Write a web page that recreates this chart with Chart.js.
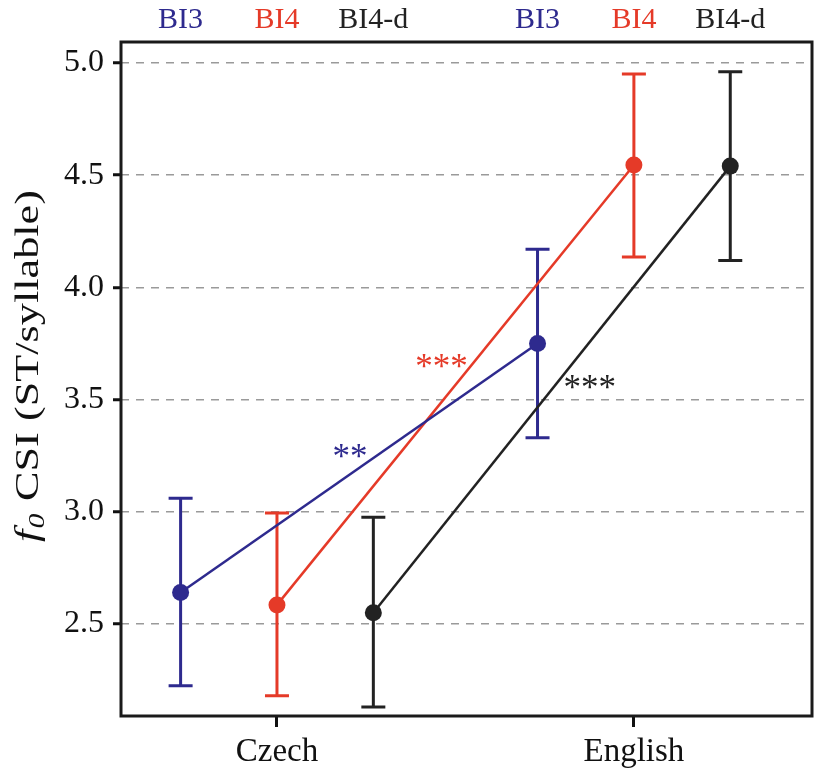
<!DOCTYPE html>
<html lang="en">
  <head>
    <meta charset="UTF-8" />
    <title>f0 CSI by language</title>
    <script src="https://cdn.jsdelivr.net/npm/chart.js@4"></script>
    <style>
      html, body { margin: 0; padding: 0; background: #fff; }
      #wrap { width: 827px; height: 779px; }
    </style>
  </head>
  <body>
    <div id="wrap"><canvas id="csiChart"></canvas></div>
    <script>
      // values
      const languages = ["Czech", "English"];
      const groups = ["BI3", "BI4", "BI4-d"];
      const groupOffsets = [-0.27, 0, 0.27];
      const meanBI3 = [2.64, 3.75];
      const meanBI4 = [2.585, 4.545];
      const meanBI4d = [2.55, 4.54];
      const lowBI3 = [2.225, 3.33];
      const lowBI4 = [2.18, 4.135];
      const lowBI4d = [2.13, 4.12];
      const highBI3 = [3.06, 4.17];
      const highBI4 = [2.995, 4.95];
      const highBI4d = [2.975, 4.96];
      const sigLabels = ["**", "***", "***"];
      const yTicks = [2.5, 3.0, 3.5, 4.0, 4.5, 5.0];

      const colors = ["#2e2a8e", "#e53a28", "#222222"];
      const FONT = "'Liberation Serif', 'DejaVu Serif', serif";

      const means = [meanBI3, meanBI4, meanBI4d];
      const lows = [lowBI3, lowBI4, lowBI4d];
      const highs = [highBI3, highBI4, highBI4d];

      const datasets = groups.map((g, gi) => ({
        label: g,
        data: languages.map((_, li) => ({
          x: li + groupOffsets[gi],
          y: means[gi][li],
          lo: lows[gi][li],
          hi: highs[gi][li],
        })),
        borderColor: colors[gi],
        backgroundColor: colors[gi],
        borderWidth: 2.5,
        pointRadius: 8.5,
        pointBorderWidth: 0,
        showLine: true,
      }));

      // error bars, frame, group labels, significance marks, axis title
      const decor = {
        id: "decor",
        beforeDatasetsDraw(chart) {
          const ctx = chart.ctx;
          const xs = chart.scales.x, ys = chart.scales.y;
          ctx.save();
          chart.data.datasets.forEach((ds) => {
            ctx.strokeStyle = ds.borderColor;
            ctx.lineWidth = 3;
            ds.data.forEach((p) => {
              const px = xs.getPixelForValue(p.x);
              const top = ys.getPixelForValue(p.hi);
              const bot = ys.getPixelForValue(p.lo);
              ctx.beginPath();
              ctx.moveTo(px, top);
              ctx.lineTo(px, bot);
              ctx.moveTo(px - 12, top);
              ctx.lineTo(px + 12, top);
              ctx.moveTo(px - 12, bot);
              ctx.lineTo(px + 12, bot);
              ctx.stroke();
            });
          });
          ctx.restore();
        },
        afterDraw(chart) {
          const ctx = chart.ctx;
          const a = chart.chartArea;
          const xs = chart.scales.x;
          ctx.save();
          // frame
          ctx.strokeStyle = "#1a1a1a";
          ctx.lineWidth = 3;
          ctx.strokeRect(a.left, a.top, a.right - a.left, a.bottom - a.top);

          // group labels above the frame
          ctx.font = "30px " + FONT;
          ctx.textAlign = "center";
          ctx.textBaseline = "alphabetic";
          languages.forEach((_, li) => {
            groups.forEach((g, gi) => {
              ctx.fillStyle = colors[gi];
              ctx.fillText(g, xs.getPixelForValue(li + groupOffsets[gi]), 28);
            });
          });

          // significance marks near each line's midpoint
          const nudges = [[-9, -9], [-14, -16], [38, 0]];
          ctx.font = "35px " + FONT;
          chart.data.datasets.forEach((ds, gi) => {
            const m0 = chart.getDatasetMeta(gi).data[0];
            const m1 = chart.getDatasetMeta(gi).data[1];
            const mx = (m0.x + m1.x) / 2 + nudges[gi][0];
            const my = (m0.y + m1.y) / 2 + nudges[gi][1];
            ctx.fillStyle = colors[gi];
            ctx.textBaseline = "middle";
            ctx.fillText(sigLabels[gi], mx, my);
          });

          // y axis title: f0 CSI (ST/syllable)
          const cy = 366;
          ctx.translate(38, cy);
          ctx.rotate(-Math.PI / 2);
          ctx.fillStyle = "#111";
          ctx.textAlign = "left";
          ctx.textBaseline = "alphabetic";
          const fItal = "italic 34px " + FONT;
          const subItal = "italic 23px " + FONT;
          const plain = "34px " + FONT;
          const rest = " CSI (ST/syllable)";
          ctx.font = fItal; const wF = ctx.measureText("f").width;
          ctx.font = subItal; const w0 = ctx.measureText("0").width;
          ctx.font = plain; const wR = ctx.measureText(rest).width;
          const total = wF + w0 + 2 + wR;
          const stretch = 352 / total;
          ctx.scale(stretch, 1);
          let x = -total / 2;
          ctx.font = fItal; ctx.fillText("f", x, 0); x += wF + 1;
          ctx.font = subItal; ctx.fillText("0", x, 6); x += w0 + 1;
          ctx.font = plain; ctx.fillText(rest, x, 0);
          ctx.restore();
        },
      };

      new Chart(document.getElementById("csiChart"), {
        type: "line",
        data: { datasets },
        options: {
          responsive: true,
          maintainAspectRatio: false,
          animation: false,
          layout: { padding: { top: 42, right: 15, left: 0, bottom: 0 } },
          plugins: { legend: { display: false }, tooltip: { enabled: false } },
          scales: {
            x: {
              type: "linear",
              min: -0.437,
              max: 1.499,
              afterBuildTicks: (s) => {
                s.ticks = languages.map((_, i) => ({ value: i }));
              },
              afterFit: (s) => { s.height = 63; },
              ticks: {
                callback: (v) => languages[v] ?? "",
                color: "#111",
                font: { family: FONT, size: 33 },
                padding: 6,
                maxRotation: 0,
              },
              grid: {
                drawOnChartArea: false,
                tickLength: 11,
                tickWidth: 3,
                tickColor: "#111",
              },
              border: { display: false },
            },
            y: {
              min: 2.09,
              max: 5.093,
              afterBuildTicks: (s) => {
                s.ticks = yTicks.map((v) => ({ value: v }));
              },
              afterFit: (s) => { s.width = 121; },
              ticks: {
                callback: (v) => v.toFixed(1),
                color: "#111",
                font: { family: FONT, size: 32 },
                padding: 9,
              },
              grid: {
                color: "#9a9a9a",
                lineWidth: 1.5,
                tickLength: 8,
                tickWidth: 3,
                tickColor: "#111",
                tickBorderDash: [1, 0],
              },
              border: { display: false, dash: [8, 7] },
            },
          },
        },
        plugins: [decor],
      });
    </script>
  </body>
</html>
